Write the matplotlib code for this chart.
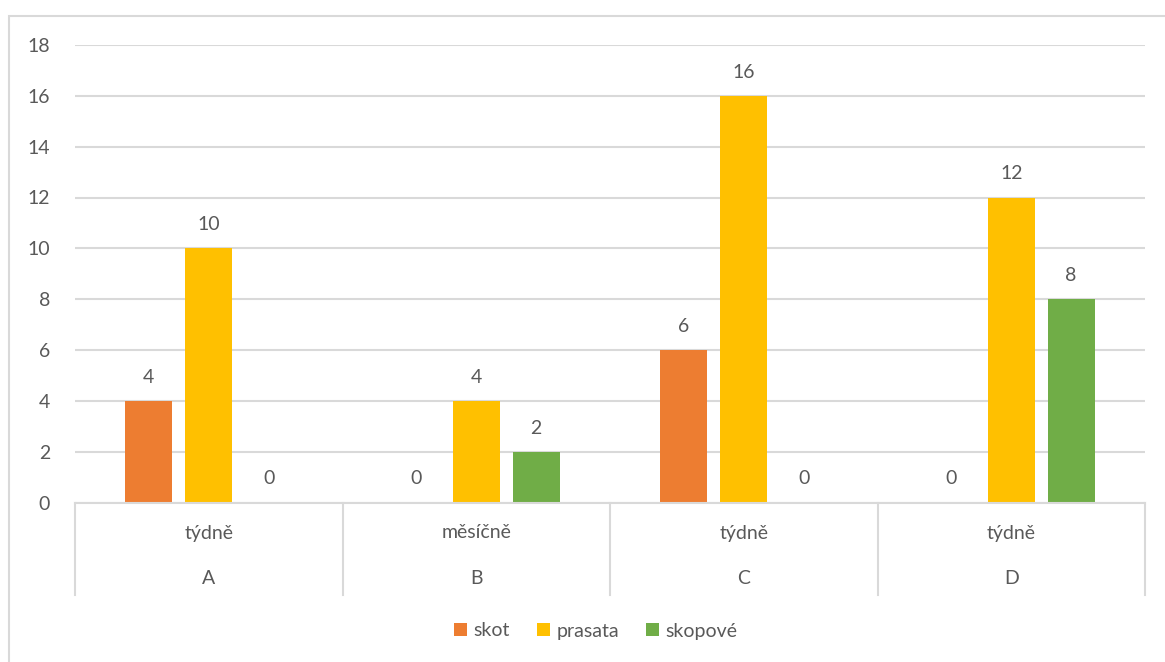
import numpy as np
import matplotlib.pyplot as plt
from matplotlib.patches import Rectangle
from matplotlib.transforms import blended_transform_factory

plt.rcParams['font.family'] = ['Lato', 'DejaVu Sans']

# data
firmy = ['A', 'B', 'C', 'D']
frekvence = ['týdně', 'měsíčně', 'týdně', 'týdně']
serie = ['skot', 'prasata', 'skopové']
skot = [4, 0, 6, 0]
prasata = [10, 4, 16, 12]
skopove = [0, 2, 0, 8]
barvy = ['#ED7D31', '#FFC000', '#70AD47']
yticks = [0, 2, 4, 6, 8, 10, 12, 14, 16, 18]

W, H = 1165, 662
fig = plt.figure(figsize=(W / 100, H / 100), dpi=100)
ax = fig.add_axes([75 / W, (H - 502.5) / H, (1145 - 75) / W, (502.5 - 45) / H])

# chart frame
fig.patches.append(Rectangle((9 / W, -0.1), 1.1, (H - 16) / H + 0.1,
                             transform=fig.transFigure, fill=False,
                             edgecolor='#D9D9D9', lw=1.5))

x = np.arange(len(firmy))
bw = 0.175
step = 0.224
grey = '#595959'
fs = 14
for i, (vals, name) in enumerate(zip([skot, prasata, skopove], serie)):
    pos = x + (i - 1) * step
    bars = ax.bar(pos, vals, width=bw, color=barvy[i], label=name, zorder=3)
    for b, v in zip(bars, vals):
        ax.annotate(str(v), (b.get_x() + b.get_width() / 2, v),
                    xytext=(0, 17), textcoords='offset points',
                    ha='center', va='center', fontsize=fs, color=grey)

ax.set_xlim(-0.5, len(firmy) - 0.5)
ax.set_ylim(0, 18)
ax.set_yticks(yticks)
ax.tick_params(axis='y', length=0, labelsize=fs, labelcolor=grey, pad=18)
ax.set_xticks([])
ax.grid(axis='y', color='#D9D9D9', lw=1.5, zorder=0)
for s in ['top', 'right', 'left']:
    ax.spines[s].set_visible(False)
ax.spines['bottom'].set_color('#D9D9D9')
ax.spines['bottom'].set_linewidth(1.5)
ax.spines['bottom'].set_zorder(4)

# multi-level category axis
tr = blended_transform_factory(ax.transData, fig.transFigure)
y0 = (H - 502.5) / H
y1 = (H - 595) / H
for xb in np.arange(-0.5, len(firmy), 1.0):
    ax.plot([xb, xb], [y0, y1], transform=tr, color='#D9D9D9', lw=1.5,
            clip_on=False)
for xi, f, fr in zip(x, firmy, frekvence):
    ax.text(xi, (H - 533) / H, fr, transform=tr, ha='center', va='center',
            fontsize=fs, color=grey)
    ax.text(xi, (H - 579) / H, f, transform=tr, ha='center', va='center',
            fontsize=fs, color=grey)

fig.legend(loc='center', bbox_to_anchor=(596 / W, (H - 631) / H), ncol=3,
           frameon=False, fontsize=fs, labelcolor=grey, handlelength=0.65,
           handleheight=0.65, handletextpad=0.35, columnspacing=1.4)

fig.savefig('out.png', dpi=100, facecolor='white')
